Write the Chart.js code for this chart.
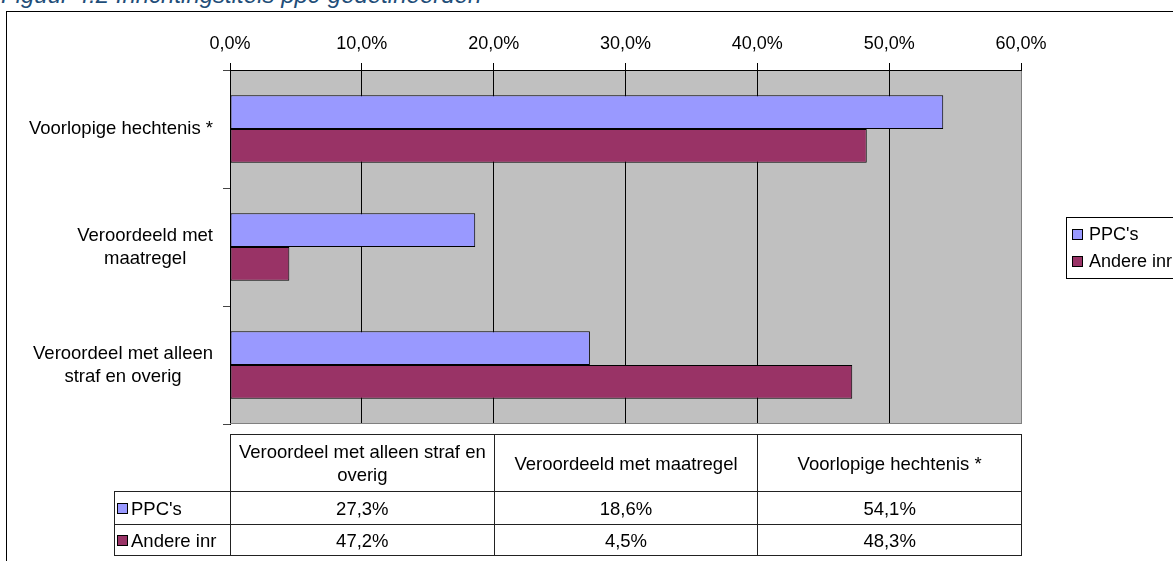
<!DOCTYPE html>
<html>
<head>
<meta charset="utf-8">
<script src="https://cdn.jsdelivr.net/npm/chart.js@4"></script>
<style>
    html, body { margin: 0; padding: 0; background: #fff; overflow: hidden; width: 1173px; height: 561px; }
    body { position: relative; font-family: "Liberation Sans", Arial, sans-serif; }
    #title { position: absolute; left: 1px; top: -19px; font-size: 24px; font-style: italic; color: #1f4e79; white-space: nowrap; }
    #frame { position: absolute; left: 6px; top: 11px; width: 1300px; height: 700px; border: 1px solid #000; }
    #chart { position: absolute; left: 0; top: 0; }
    #dataTable { position: absolute; border-collapse: collapse; table-layout: fixed; font-size: 18.5px; color: #000; }
    #dataTable td { border: 1px solid #222; text-align: center; padding: 0 3px; line-height: 23px; }
    #dataTable td.corner { border: none; }
    #dataTable td.rowhead { text-align: left; padding: 0 0 0 2px; white-space: nowrap; overflow: hidden; }
    #dataTable .key { display: inline-block; width: 9px; height: 9px; border: 1px solid #000; margin-right: 3px; vertical-align: 1px; }
</style>
</head>
<body>
<div id="title">Figuur 4.2 Inrichtingstitels ppc-gedetineerden</div>
<div id="frame"></div>
<canvas id="chart" width="1200" height="561"></canvas>
<table id="dataTable"></table>
<script>
// volgorde zoals in de tabel onder de grafiek
const categories = ["Veroordeel met alleen straf en overig", "Veroordeeld met maatregel", "Voorlopige hechtenis *"];
const axisLabels = [["Veroordeel met alleen", "straf en overig"], ["Veroordeeld met", "maatregel"], ["Voorlopige hechtenis *"]];
const ppcValues = [27.3, 18.6, 54.1];
const andereValues = [47.2, 4.5, 48.3];
const seriesNames = ["PPC's", "Andere inr"];
const seriesColors = ["#9999FF", "#993366"];
const xTickValues = [0, 10, 20, 30, 40, 50, 60];

const fmt = (v) => v.toFixed(1).replace(".", ",") + "%";

// grafiek toont de categorieën omgekeerd (Excel-stijl)
const chartLabels = categories.slice().reverse();
const chartAxisLabels = axisLabels.slice().reverse();

const plotBackground = {
    id: "plotBackground",
    beforeDraw(chart) {
        const a = chart.chartArea;
        const ctx = chart.ctx;
        ctx.save();
        ctx.fillStyle = "#C0C0C0";
        ctx.fillRect(a.left, a.top, a.right - a.left, a.bottom - a.top);
        ctx.restore();
    },
    afterDraw(chart) {
        const a = chart.chartArea;
        const ctx = chart.ctx;
        ctx.save();
        ctx.strokeStyle = "#808080";
        ctx.lineWidth = 1;
        ctx.beginPath();
        ctx.moveTo(a.left, Math.round(a.bottom) - 0.5);
        ctx.lineTo(a.right, Math.round(a.bottom) - 0.5);
        ctx.stroke();
        ctx.restore();
    },
};

// labels links, regels onderling gecentreerd, blok rechts uitgelijnd
const categoryLabels = {
    id: "categoryLabels",
    afterDraw(chart) {
        const ctx = chart.ctx;
        const y = chart.scales.y;
        const right = chart.chartArea.left - 17;
        ctx.save();
        ctx.font = '18.5px "Liberation Sans", Arial, sans-serif';
        ctx.fillStyle = "#000";
        ctx.textBaseline = "middle";
        ctx.textAlign = "center";
        const lh = 23;
        chartAxisLabels.forEach((lines, i) => {
            const cy = y.getPixelForValue(i);
            const w = Math.max(...lines.map((l) => ctx.measureText(l).width));
            const cx = right - w / 2;
            lines.forEach((l, j) => {
                ctx.fillText(l, cx, cy + (j - (lines.length - 1) / 2) * lh);
            });
        });
        ctx.restore();
    },
};

const boxedLegend = {
    id: "boxedLegend",
    afterDraw(chart) {
        const ctx = chart.ctx;
        const a = chart.chartArea;
        const left = a.right + 45;
        const h = 61;
        const top = Math.round((a.top + a.bottom) / 2 - h / 2);
        ctx.save();
        ctx.strokeStyle = "#000";
        ctx.lineWidth = 1;
        ctx.strokeRect(left + 0.5, top + 0.5, 130, h);
        ctx.font = '18px "Liberation Sans", Arial, sans-serif';
        ctx.textBaseline = "middle";
        ctx.textAlign = "left";
        chart.data.datasets.forEach((ds, i) => {
            const cy = top + 17 + i * 27;
            ctx.fillStyle = ds.backgroundColor;
            ctx.fillRect(left + 6, cy - 5, 10, 10);
            ctx.strokeRect(left + 6.5, cy - 4.5, 10, 10);
            ctx.fillStyle = "#000";
            ctx.fillText(ds.label, left + 23, cy + 1);
        });
        ctx.restore();
    },
};

const ctx = document.getElementById("chart").getContext("2d");
Chart.defaults.font.family = '"Liberation Sans", Arial, sans-serif';
Chart.defaults.color = "#000";

const chart = new Chart(ctx, {
    type: "bar",
    data: {
        labels: chartLabels,
        datasets: [
            {
                label: seriesNames[0],
                data: ppcValues.slice().reverse(),
                backgroundColor: seriesColors[0],
                borderColor: "#000",
                borderWidth: 1,
                borderSkipped: false,
            },
            {
                label: seriesNames[1],
                data: andereValues.slice().reverse(),
                backgroundColor: seriesColors[1],
                borderColor: "#000",
                borderWidth: 1,
                borderSkipped: false,
            },
        ],
    },
    options: {
        indexAxis: "y",
        responsive: false,
        animation: false,
        categoryPercentage: 0.57,
        barPercentage: 1.0,
        layout: { padding: { left: 0, top: 0, right: 179, bottom: 137 } },
        plugins: {
            legend: { display: false },
            tooltip: { enabled: false },
        },
        scales: {
            x: {
                position: "top",
                min: 0,
                max: 60,
                afterBuildTicks: (scale) => {
                    scale.ticks = xTickValues.map((v) => ({ value: v }));
                },
                afterFit: (scale) => {
                    scale.height = 70;
                },
                ticks: {
                    font: { size: 18 },
                    padding: 8,
                    callback: (v) => fmt(v),
                },
                grid: {
                    color: (c) => (c.tick && c.tick.value === 60 ? "#808080" : "#000"),
                    tickColor: "#000",
                    tickLength: 7,
                    lineWidth: 1,
                },
                border: { display: true, color: "#000" },
            },
            y: {
                afterFit: (scale) => {
                    scale.width = 230;
                },
                ticks: { display: false },
                grid: {
                    drawOnChartArea: false,
                    drawTicks: true,
                    tickLength: 7,
                    tickColor: "#444",
                },
                border: { display: true, color: "#000" },
            },
        },
    },
    plugins: [plotBackground, categoryLabels, boxedLegend],
});

// datatabel onder de grafiek
function buildTable() {
    const a = chart.chartArea;
    const table = document.getElementById("dataTable");
    const colW = (a.right - a.left) / 3;
    const headW = 116;
    table.style.left = a.left - headW + "px";
    table.style.top = Math.round(a.bottom) + 10 + "px";
    table.style.width = headW + colW * 3 + "px";

    let html = "<colgroup><col style='width:" + headW + "px'>";
    categories.forEach(() => { html += "<col style='width:" + colW + "px'>"; });
    html += "</colgroup>";
    html += "<tr style='height:57px'><td class='corner'></td>";
    categories.forEach((c) => { html += "<td>" + c + "</td>"; });
    html += "</tr>";
    [ppcValues, andereValues].forEach((vals, i) => {
        html += "<tr style='height:" + (i === 0 ? 33 : 31) + "px'><td class='rowhead'><span class='key' style='background:" +
            seriesColors[i] + "'></span>" + seriesNames[i] + "</td>";
        vals.forEach((v) => { html += "<td>" + fmt(v) + "</td>"; });
        html += "</tr>";
    });
    table.innerHTML = html;
}
buildTable();
</script>
</body>
</html>
